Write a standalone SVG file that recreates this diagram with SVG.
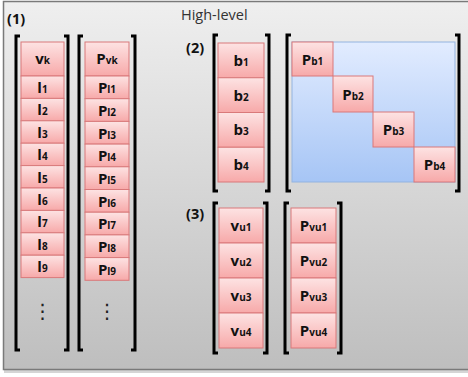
<svg xmlns="http://www.w3.org/2000/svg" width="468" height="377" viewBox="0 0 468 377">
<defs>
<linearGradient id="bg" x1="0" y1="0" x2="0" y2="1"><stop offset="0" stop-color="#efefef"/><stop offset="1" stop-color="#bebebe"/></linearGradient>
<linearGradient id="pink" x1="0" y1="0" x2="0" y2="1"><stop offset="0" stop-color="#fde3e3"/><stop offset="1" stop-color="#f7a9a9"/></linearGradient>
<linearGradient id="blue" x1="0" y1="0" x2="0" y2="1"><stop offset="0" stop-color="#e2ecff"/><stop offset="1" stop-color="#a6c5f5"/></linearGradient>
</defs>
<style>
.cell{fill:url(#pink);stroke:#d9797a;stroke-width:1}
.br{fill:none;stroke:#000;stroke-width:3;stroke-linecap:butt}
.t{font-family:"Open Sans","Liberation Sans",sans-serif;font-weight:bold;font-size:15px;fill:#111;text-anchor:middle}
.s{font-size:10px}
.lbl{font-family:"Open Sans","Liberation Sans",sans-serif;font-weight:bold;font-size:14.5px;fill:#111}
.dots{font-family:"DejaVu Sans",sans-serif;font-size:20px;fill:#222;text-anchor:middle}
</style>
<g id="frame">
<rect x="4" y="5" width="470" height="368" fill="#888" opacity="0.35"/>
<rect x="3.5" y="1.5" width="470" height="368" fill="url(#bg)" stroke="#7a7a7a" stroke-width="1.5"/>
<text x="181" y="20" font-family="'Open Sans','Liberation Sans',sans-serif" font-size="14.5px" fill="#333">High-level</text>
<text class="lbl" x="7" y="24">(1)</text>
<text class="lbl" x="186" y="53">(2)</text>
<text class="lbl" x="186" y="219">(3)</text>
</g>
<g id="brackets">
<path class="br" d="M20,36 H16 V350 H20 M64,36 H68 V350 H64"/>
<path class="br" d="M83,36 H79 V350 H83 M131,36 H135 V350 H131"/>
<path class="br" d="M218,35 H214 V191 H218 M265,35 H269 V191 H265"/>
<path class="br" d="M291,35 H287 V191 H291 M455,35 H459 V191 H455"/>
<path class="br" d="M218,203 H214 V353 H218 M263,203 H267 V353 H263"/>
<path class="br" d="M289,203 H285 V353 H289 M337,203 H341 V353 H337"/>
</g>
<g id="col-v">
<rect class="cell" x="21" y="42" width="43" height="34"/>
<text class="t" x="42.5" y="64">v<tspan class="s">k</tspan></text>
<rect class="cell" x="21" y="76" width="43" height="22.4"/>
<text class="t" x="42.5" y="92.5">l<tspan class="s">1</tspan></text>
<rect class="cell" x="21" y="98.4" width="43" height="22.4"/>
<text class="t" x="42.5" y="115">l<tspan class="s">2</tspan></text>
<rect class="cell" x="21" y="120.8" width="43" height="22.4"/>
<text class="t" x="42.5" y="137.5">l<tspan class="s">3</tspan></text>
<rect class="cell" x="21" y="143.2" width="43" height="22.4"/>
<text class="t" x="42.5" y="160">l<tspan class="s">4</tspan></text>
<rect class="cell" x="21" y="165.6" width="43" height="22.4"/>
<text class="t" x="42.5" y="182.5">l<tspan class="s">5</tspan></text>
<rect class="cell" x="21" y="188" width="43" height="22.4"/>
<text class="t" x="42.5" y="204.5">l<tspan class="s">6</tspan></text>
<rect class="cell" x="21" y="210.4" width="43" height="22.4"/>
<text class="t" x="42.5" y="227">l<tspan class="s">7</tspan></text>
<rect class="cell" x="21" y="232.8" width="43" height="22.4"/>
<text class="t" x="42.5" y="249.5">l<tspan class="s">8</tspan></text>
<rect class="cell" x="21" y="255.2" width="43" height="22.4"/>
<text class="t" x="42.5" y="272">l<tspan class="s">9</tspan></text>
<text class="dots" x="42.5" y="318">⋮</text>
</g>
<g id="col-p">
<rect class="cell" x="85" y="42" width="44" height="34"/>
<text class="t" x="107" y="64">P<tspan class="s">vk</tspan></text>
<rect class="cell" x="85" y="76" width="44" height="22.7"/>
<text class="t" x="107" y="93">P<tspan class="s">l1</tspan></text>
<rect class="cell" x="85" y="98.7" width="44" height="22.7"/>
<text class="t" x="107" y="115.5">P<tspan class="s">l2</tspan></text>
<rect class="cell" x="85" y="121.4" width="44" height="22.7"/>
<text class="t" x="107" y="138.5">P<tspan class="s">l3</tspan></text>
<rect class="cell" x="85" y="144.1" width="44" height="22.7"/>
<text class="t" x="107" y="161">P<tspan class="s">l4</tspan></text>
<rect class="cell" x="85" y="166.8" width="44" height="22.7"/>
<text class="t" x="107" y="184">P<tspan class="s">l5</tspan></text>
<rect class="cell" x="85" y="189.5" width="44" height="22.7"/>
<text class="t" x="107" y="206.5">P<tspan class="s">l6</tspan></text>
<rect class="cell" x="85" y="212.2" width="44" height="22.7"/>
<text class="t" x="107" y="229">P<tspan class="s">l7</tspan></text>
<rect class="cell" x="85" y="234.9" width="44" height="22.7"/>
<text class="t" x="107" y="252">P<tspan class="s">l8</tspan></text>
<rect class="cell" x="85" y="257.6" width="44" height="22.7"/>
<text class="t" x="107" y="274.5">P<tspan class="s">l9</tspan></text>
<text class="dots" x="107" y="318">⋮</text>
</g>
<g id="col-b">
<rect class="cell" x="218" y="43" width="46" height="34.75"/>
<text class="t" x="241" y="65.5">b<tspan class="s">1</tspan></text>
<rect class="cell" x="218" y="77.75" width="46" height="34.75"/>
<text class="t" x="241" y="100.5">b<tspan class="s">2</tspan></text>
<rect class="cell" x="218" y="112.5" width="46" height="34.75"/>
<text class="t" x="241" y="135">b<tspan class="s">3</tspan></text>
<rect class="cell" x="218" y="147.25" width="46" height="34.75"/>
<text class="t" x="241" y="170">b<tspan class="s">4</tspan></text>
</g>
<g id="matrix-pb">
<rect x="292" y="42" width="163" height="140" fill="url(#blue)" stroke="#93b3e0" stroke-width="1"/>
<rect class="cell" x="292" y="42" width="41" height="34"/>
<text class="t" x="312.5" y="64.5">P<tspan class="s">b1</tspan></text>
<rect class="cell" x="333" y="76" width="40" height="36"/>
<text class="t" x="353" y="99.5">P<tspan class="s">b2</tspan></text>
<rect class="cell" x="373" y="112" width="41" height="35"/>
<text class="t" x="393.5" y="135">P<tspan class="s">b3</tspan></text>
<rect class="cell" x="414" y="147" width="41" height="35"/>
<text class="t" x="434.5" y="170">P<tspan class="s">b4</tspan></text>
</g>
<g id="col-vu">
<rect class="cell" x="219" y="208" width="44" height="35"/>
<text class="t" x="241" y="230.5">v<tspan class="s">u1</tspan></text>
<rect class="cell" x="219" y="243" width="44" height="35"/>
<text class="t" x="241" y="265.5">v<tspan class="s">u2</tspan></text>
<rect class="cell" x="219" y="278" width="44" height="35"/>
<text class="t" x="241" y="300.5">v<tspan class="s">u3</tspan></text>
<rect class="cell" x="219" y="313" width="44" height="35"/>
<text class="t" x="241" y="335.5">v<tspan class="s">u4</tspan></text>
</g>
<g id="col-pvu">
<rect class="cell" x="291" y="208" width="45" height="35"/>
<text class="t" x="313.5" y="230.5">P<tspan class="s">vu1</tspan></text>
<rect class="cell" x="291" y="243" width="45" height="35"/>
<text class="t" x="313.5" y="265.5">P<tspan class="s">vu2</tspan></text>
<rect class="cell" x="291" y="278" width="45" height="35"/>
<text class="t" x="313.5" y="300.5">P<tspan class="s">vu3</tspan></text>
<rect class="cell" x="291" y="313" width="45" height="35"/>
<text class="t" x="313.5" y="335.5">P<tspan class="s">vu4</tspan></text>
</g>
</svg>
